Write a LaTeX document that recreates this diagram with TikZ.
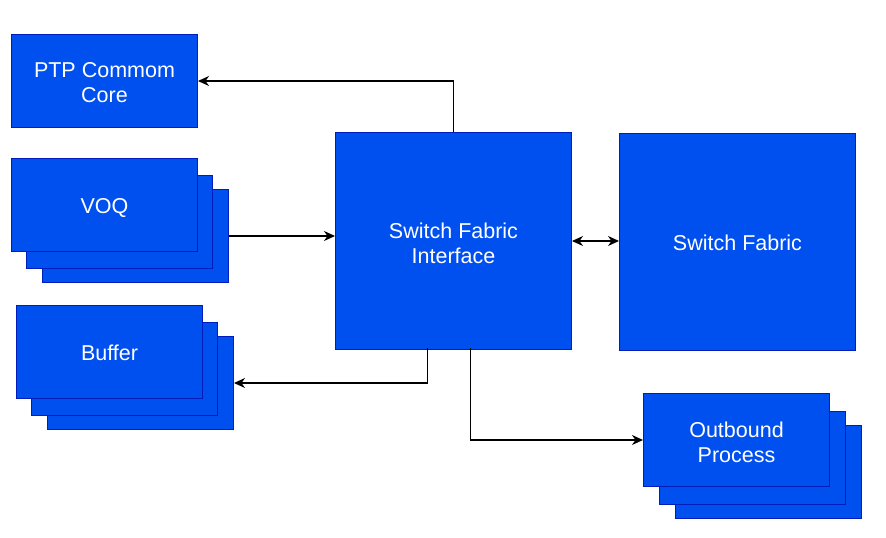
\documentclass[tikz,border=0pt]{standalone}
\usepackage{fontspec}
\setmainfont{Liberation Sans}
\usetikzlibrary{arrows.meta}
\definecolor{boxfill}{HTML}{0050EF}
\definecolor{boxline}{HTML}{001DBC}
\begin{document}
\begin{tikzpicture}[x=1pt,y=-1pt,
  blk/.style={draw=boxline,fill=boxfill,line width=1pt,anchor=north west,inner sep=0pt},
  txt/.style={text=white,align=center,inner sep=0pt,font=\fontsize{21.5}{25}\selectfont},
  tip/.style={Stealth[length=11pt,width=10pt,inset=3.5pt]},
  arr/.style={-{Stealth[length=11pt,width=10pt,inset=3.5pt]},line width=1.2pt,black},
  darr/.style={{Stealth[length=11pt,width=10pt,inset=3.5pt]}-{Stealth[length=11pt,width=10pt,inset=3.5pt]},line width=1.2pt,black}]
\useasboundingbox (0,0) rectangle (886,538);
% PTP
\node[blk,minimum width=186pt,minimum height=93pt] (ptp) at (11,34) {};
% VOQ stack
\node[blk,minimum width=186pt,minimum height=93pt] (voq3) at (42,189) {};
\node[blk,minimum width=186pt,minimum height=93pt] (voq2) at (26,175) {};
\node[blk,minimum width=186pt,minimum height=93pt] (voq1) at (11,158) {};
% Buffer stack
\node[blk,minimum width=186pt,minimum height=93pt] (buf3) at (47,336) {};
\node[blk,minimum width=186pt,minimum height=93pt] (buf2) at (31,322) {};
\node[blk,minimum width=186pt,minimum height=93pt] (buf1) at (16,305) {};
% Switch fabric interface
\node[blk,minimum width=236pt,minimum height=217pt] (sfi) at (335,132) {};
% Switch fabric
\node[blk,minimum width=236pt,minimum height=217pt] (sf) at (619,133) {};
% Outbound stack
\node[blk,minimum width=186pt,minimum height=93pt] (out3) at (675,425) {};
\node[blk,minimum width=186pt,minimum height=93pt] (out2) at (659,411) {};
\node[blk,minimum width=186pt,minimum height=93pt] (out1) at (643,393) {};
% labels
\node[txt] (ptpt) at ([yshift=-2pt]ptp.center) {PTP Commom\\Core};
\node[txt] (voqt) at ([yshift=-3pt]voq1.center) {VOQ};
\node[txt] (buft) at ([yshift=-1pt]buf1.center) {Buffer};
\node[txt] (sfit) at ([yshift=-2pt]sfi.center) {Switch Fabric\\Interface};
\node[txt] (sft) at ([yshift=-1pt]sf.center) {Switch Fabric};
\node[txt] (outt) at ([yshift=-2pt]out1.center) {Outbound\\Process};
% connectors
\draw[arr] (sfi.north) |- (ptp.east);
\draw[arr] (voq3.east) -- (sfi.west |- voq3.east);
\draw[darr] (sfi.east) -- (sf.west |- sfi.east);
\draw[arr] ([xshift=-26pt,yshift=2pt]sfi.south) |- (buf3.east);
\draw[arr] ([xshift=17pt,yshift=2pt]sfi.south) |- (out1.west);
\end{tikzpicture}
\end{document}
